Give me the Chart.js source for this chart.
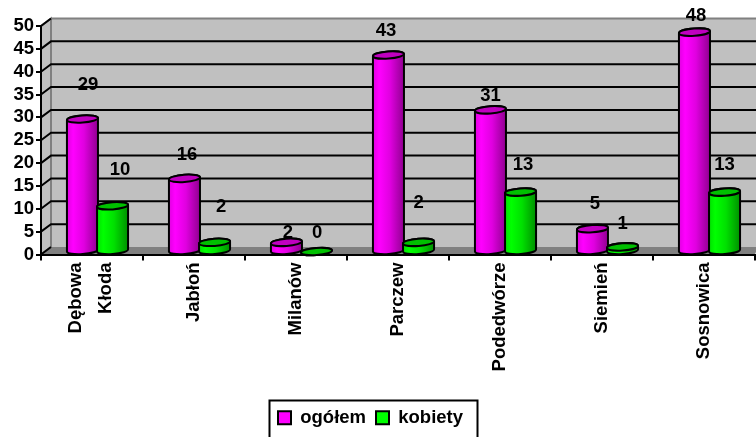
<!DOCTYPE html>
<html><head><meta charset="utf-8">
<script src="https://cdn.jsdelivr.net/npm/chart.js@4"></script>
<style>html,body{margin:0;padding:0;background:#fff;overflow:hidden}canvas{display:block}</style>
</head><body><canvas id="c" width="756" height="437"></canvas>
<script>
const categories = [['Dębowa','Kłoda'],'Jabłoń','Milanów','Parczew','Podedwórze','Siemień','Sosnowica'];
const ogolem = [29,16,2,43,31,5,48];
const kobiety = [10,2,0,2,13,1,13];
const yTicks = [0,5,10,15,20,25,30,35,40,45,50];

const FONT = 'bold 18.5px "Liberation Sans", Arial, sans-serif';
const fontOpt = {family:'"Liberation Sans", Arial, sans-serif',size:18.5,weight:'bold'};
const DEPTH_X = 10, DEPTH_Y = 7.5, LIFT = 3, SHIFT = 5.5;
// manual label placement relative to each bar (dx, dy above top), as in the reference
const labelShift = [
  [[5.5,37],[2.5,26],[1.5,12],[-2.5,27],[0,17],[2.5,28],[1.5,19]],
  [[7.5,39],[6.5,38],[0.5,22],[0,42],[2.5,30],[0,26],[0,30]]
];
const shades = [
  {hi:'#ff00ff',mid:'#e000e0',lo:'#900090',top:'#c000c0'},
  {hi:'#00ff00',mid:'#00e000',lo:'#009000',top:'#00c000'}
];

function cylinder(ctx, b, s){
  const cx = b.x + SHIFT;
  const w = b.width + 1, x0 = cx - w/2, x1 = cx + w/2;
  const rx = w/2, ry = 3.6, tilt = -0.07;
  const top = b.y - LIFT, bot = b.base - LIFT;
  const g = ctx.createLinearGradient(x0,0,x1,0);
  g.addColorStop(0,s.mid); g.addColorStop(.2,s.hi); g.addColorStop(.55,s.mid); g.addColorStop(1,s.lo);
  ctx.save();
  ctx.lineWidth = 2; ctx.strokeStyle = '#000';
  ctx.beginPath();
  ctx.ellipse(cx, bot, rx, ry, tilt, Math.PI, 0, true);
  ctx.ellipse(cx, top, rx, ry, tilt, 0, Math.PI, true);
  ctx.closePath();
  ctx.fillStyle = g; ctx.fill(); ctx.stroke();
  ctx.beginPath();
  ctx.ellipse(cx, top, rx, ry, tilt, 0, Math.PI*2);
  ctx.fillStyle = s.top; ctx.fill(); ctx.stroke();
  ctx.restore();
}

const scene = {
  id:'scene',
  afterLayout(chart){
    chart.legend.left -= 7; chart.legend.right -= 7;
    // centre the two-line rotated label on its category
    const it = chart.scales.x.getLabelItems()[0];
    if(it){ const t = it.options.translation; it.options.translation = [t[0]-16, t[1]]; }
  },
  beforeDraw(chart){
    const {ctx, chartArea:a, scales:{y}} = chart;
    const dx = DEPTH_X, dy = DEPTH_Y;
    const yTop = y.getPixelForValue(50), y0 = y.getPixelForValue(0);
    ctx.save();
    ctx.fillStyle = '#fff'; ctx.fillRect(0,0,chart.width,chart.height);
    ctx.fillStyle = '#c0c0c0';
    ctx.fillRect(a.left+dx, yTop-dy, chart.width, y0-yTop);
    ctx.beginPath();
    ctx.moveTo(a.left,y0); ctx.lineTo(a.left+dx,y0-dy); ctx.lineTo(a.left+dx,yTop-dy); ctx.lineTo(a.left,yTop); ctx.closePath();
    ctx.fillStyle = '#c0c0c0'; ctx.fill();
    ctx.strokeStyle = '#808080'; ctx.lineWidth = 2; ctx.stroke();
    ctx.beginPath();
    ctx.moveTo(a.left,y0); ctx.lineTo(a.left+dx,y0-dy); ctx.lineTo(chart.width+2,y0-dy); ctx.lineTo(a.right,y0); ctx.closePath();
    ctx.fillStyle = '#808080'; ctx.fill();
    ctx.beginPath(); ctx.moveTo(a.left+dx,yTop-dy); ctx.lineTo(chart.width,yTop-dy); ctx.stroke();
    ctx.strokeStyle = '#000'; ctx.lineWidth = 2;
    y.ticks.forEach(t=>{
      const p = y.getPixelForValue(t.value);
      ctx.beginPath();
      ctx.moveTo(a.left,p); ctx.lineTo(a.left+dx,p-dy);
      if(t.value>0 && t.value<50) ctx.lineTo(chart.width,p-dy);
      ctx.stroke();
    });
    ctx.restore();
  },
  beforeDatasetsDraw(chart){
    const ctx = chart.ctx;
    [0,1].forEach(i=>chart.getDatasetMeta(i).data.forEach(b=>{
      cylinder(ctx, b.getProps(['x','y','base','width'],true), shades[i]);
    }));
    return false;
  },
  afterDraw(chart){
    const ctx = chart.ctx;
    ctx.save();
    ctx.font = FONT; ctx.fillStyle = '#000'; ctx.textAlign = 'center'; ctx.textBaseline = 'middle';
    [0,1].forEach(i=>chart.getDatasetMeta(i).data.forEach((b,j)=>{
      const p = b.getProps(['x','y'],true), s = labelShift[i][j];
      ctx.fillText(String(chart.data.datasets[i].data[j]), p.x+SHIFT+s[0], p.y-s[1]);
    }));
    ctx.strokeStyle = '#000'; ctx.lineWidth = 2;
    ctx.strokeRect(269.5,400.5,208,40);
    ctx.restore();
  }
};

new Chart(document.getElementById('c'),{
  type:'bar',
  data:{labels:categories,datasets:[
    {label:'ogółem',data:ogolem,backgroundColor:'#ff00ff',borderColor:'#000',borderWidth:2},
    {label:'kobiety',data:kobiety,backgroundColor:'#00ff00',borderColor:'#000',borderWidth:2}
  ]},
  plugins:[scene],
  options:{
    responsive:false,animation:false,devicePixelRatio:1,
    layout:{padding:{top:26,right:1,left:0,bottom:0}},
    datasets:{bar:{categoryPercentage:.59,barPercentage:1}},
    scales:{
      x:{
        afterFit(s){s.height=144;},
        grid:{drawOnChartArea:false,drawTicks:true,tickLength:6,color:'#000',lineWidth:2},
        border:{display:true,color:'#000',width:2},
        ticks:{font:{...fontOpt,lineHeight:1.62},color:'#000',minRotation:90,maxRotation:90,autoSkip:false,padding:2}
      },
      y:{
        min:0,max:50,
        afterBuildTicks(s){s.ticks=yTicks.map(v=>({value:v}));},
        afterFit(s){s.width=41;},
        grid:{drawOnChartArea:false,drawTicks:true,tickLength:5,color:'#000',lineWidth:2},
        border:{display:true,color:'#000',width:2},
        ticks:{font:fontOpt,color:'#000',padding:2,autoSkip:false}
      }
    },
    plugins:{
      title:{display:false},tooltip:{enabled:false},
      legend:{position:'bottom',labels:{font:fontOpt,color:'#000',boxWidth:13,boxHeight:13,padding:10}}
    }
  }
});
</script></body></html>
